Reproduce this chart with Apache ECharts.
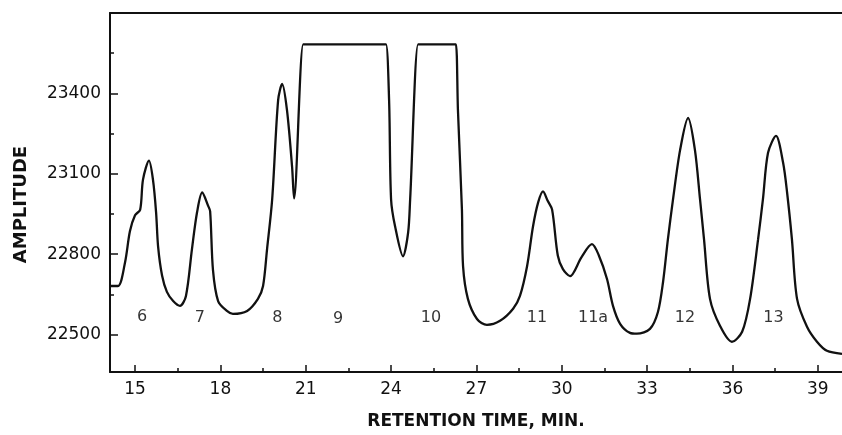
<!DOCTYPE html>
<html>
<head>
<meta charset="utf-8">
<script src="https://cdn.jsdelivr.net/npm/echarts@6/dist/echarts.min.js"></script>
<style>html,body{margin:0;padding:0;background:#fff;}#c{width:842px;height:435px;}</style>
</head>
<body>
<div id="c"></div>
<script>
// Retention time (min) and amplitude
const retentionTime = [14.12,14.40,14.65,14.82,15.00,15.18,15.28,15.49,15.63,15.74,15.81,15.95,16.12,16.34,16.58,16.79,17.00,17.18,17.36,17.57,17.64,17.74,17.92,18.23,18.44,18.94,19.32,19.50,19.64,19.82,20.03,20.17,20.34,20.52,20.59,20.91,21.00,23.72,23.82,23.93,24.00,24.14,24.42,24.60,24.67,24.95,25.04,26.20,26.28,26.35,26.49,26.53,26.70,27.02,27.37,27.83,28.29,28.53,28.78,28.99,29.17,29.34,29.50,29.66,29.86,30.04,30.29,30.69,31.06,31.30,31.59,31.80,32.05,32.40,32.64,33.10,33.38,33.56,33.73,33.91,34.16,34.44,34.68,34.86,35.00,35.21,35.56,35.98,36.34,36.62,36.90,37.07,37.25,37.53,37.78,37.92,38.09,38.27,38.62,38.97,39.32,39.85];
const amplitude = [22681,22681,22770,22885,22945,22966,23078,23149,23078,22956,22829,22720,22659,22625,22607,22644,22818,22956,23030,22980,22960,22740,22625,22588,22577,22588,22633,22681,22818,23004,23375,23435,23338,23126,23008,23583,23583,23583,23583,23375,23004,22904,22792,22881,23004,23583,23583,23583,23583,23338,22967,22755,22633,22558,22536,22551,22596,22644,22755,22904,22993,23034,23000,22966,22795,22744,22718,22788,22837,22796,22707,22607,22540,22506,22503,22521,22584,22696,22855,23004,23189,23308,23189,23004,22855,22633,22533,22473,22510,22633,22855,23004,23178,23241,23141,23030,22855,22633,22529,22473,22439,22428];

// Peak labels
const peakNames = ['6','7','8','9','10','11','11a','12','13'];
const peakTime = [15.25,17.28,20.0,22.14,25.4,29.13,31.1,34.33,37.44];
const peakAmp = [22566,22563,22563,22560,22563,22563,22563,22563,22563];

// Axis ticks / labels
const xLabelTicks = [15,18,21,24,27,30,33,36,39];
const xMinorTicks = [16.5,19.5,22.5,25.5,28.5,31.5,34.5,37.5];
const yLabelTicks = [22500,22800,23100,23400];
const yMinorTicks = [22650,22950,23250,23550];

const X_MIN = 14.12, X_MAX = 39.85, Y_MIN = 22360, Y_MAX = 23700;
const ink = '#111';
const font = 'DejaVu Sans';

const chart = echarts.init(document.getElementById('c'));
chart.setOption({
  backgroundColor: '#fff',
  animation: false,
  grid: {left: 110, right: 0, top: 13, bottom: 62},
  xAxis: [
    {
      type: 'value', min: X_MIN, max: X_MAX,
      name: 'RETENTION TIME, MIN.', nameLocation: 'middle', nameGap: 41,
      nameTextStyle: {fontFamily: font, fontSize: 17, fontWeight: 'bold', color: ink},
      axisLine: {show: true, lineStyle: {color: ink, width: 2}},
      axisTick: {show: true, inside: true, length: 7, customValues: xLabelTicks, lineStyle: {color: ink, width: 1.5}},
      axisLabel: {show: true, margin: 9, customValues: xLabelTicks, formatter: v => String(v), fontFamily: font, fontSize: 17, color: ink},
      splitLine: {show: false}
    },
    {
      type: 'value', min: X_MIN, max: X_MAX, position: 'bottom',
      axisLine: {show: false},
      axisTick: {show: true, inside: true, length: 4, customValues: xMinorTicks, lineStyle: {color: ink, width: 1.5}},
      axisLabel: {show: false},
      splitLine: {show: false}
    },
    {
      type: 'value', min: X_MIN, max: X_MAX, position: 'top',
      axisLine: {show: true, onZero: false, lineStyle: {color: ink, width: 2}},
      axisTick: {show: false}, axisLabel: {show: false}, splitLine: {show: false}
    }
  ],
  yAxis: [
    {
      type: 'value', min: Y_MIN, max: Y_MAX,
      name: 'AMPLITUDE', nameLocation: 'middle', nameGap: 80,
      nameTextStyle: {fontFamily: font, fontSize: 18, fontWeight: 'bold', color: ink, padding: [0, 24, 0, 0]},
      axisLine: {show: true, lineStyle: {color: ink, width: 2}},
      axisTick: {show: true, inside: true, length: 8, customValues: yLabelTicks, lineStyle: {color: ink, width: 1.5}},
      axisLabel: {show: true, margin: 9, customValues: yLabelTicks, formatter: v => String(v), fontFamily: font, fontSize: 17, color: ink},
      splitLine: {show: false}
    },
    {
      type: 'value', min: Y_MIN, max: Y_MAX, position: 'left',
      axisLine: {show: false},
      axisTick: {show: true, inside: true, length: 4, customValues: yMinorTicks, lineStyle: {color: ink, width: 1.5}},
      axisLabel: {show: false},
      splitLine: {show: false}
    }
  ],
  series: [
    {
      type: 'line',
      data: retentionTime.map((t, i) => [t, amplitude[i]]),
      showSymbol: false, symbol: 'none',
      smooth: 0.3,
      lineStyle: {color: ink, width: 2.3},
      silent: true
    },
    {
      type: 'scatter',
      data: peakTime.map((t, i) => ({name: peakNames[i], value: [t, peakAmp[i]]})),
      symbolSize: 1,
      itemStyle: {color: 'rgba(0,0,0,0)'},
      label: {show: true, position: 'inside', formatter: p => p.name, fontFamily: font, fontSize: 16, color: '#000'},
      silent: true
    }
  ]
});
</script>
</body>
</html>
